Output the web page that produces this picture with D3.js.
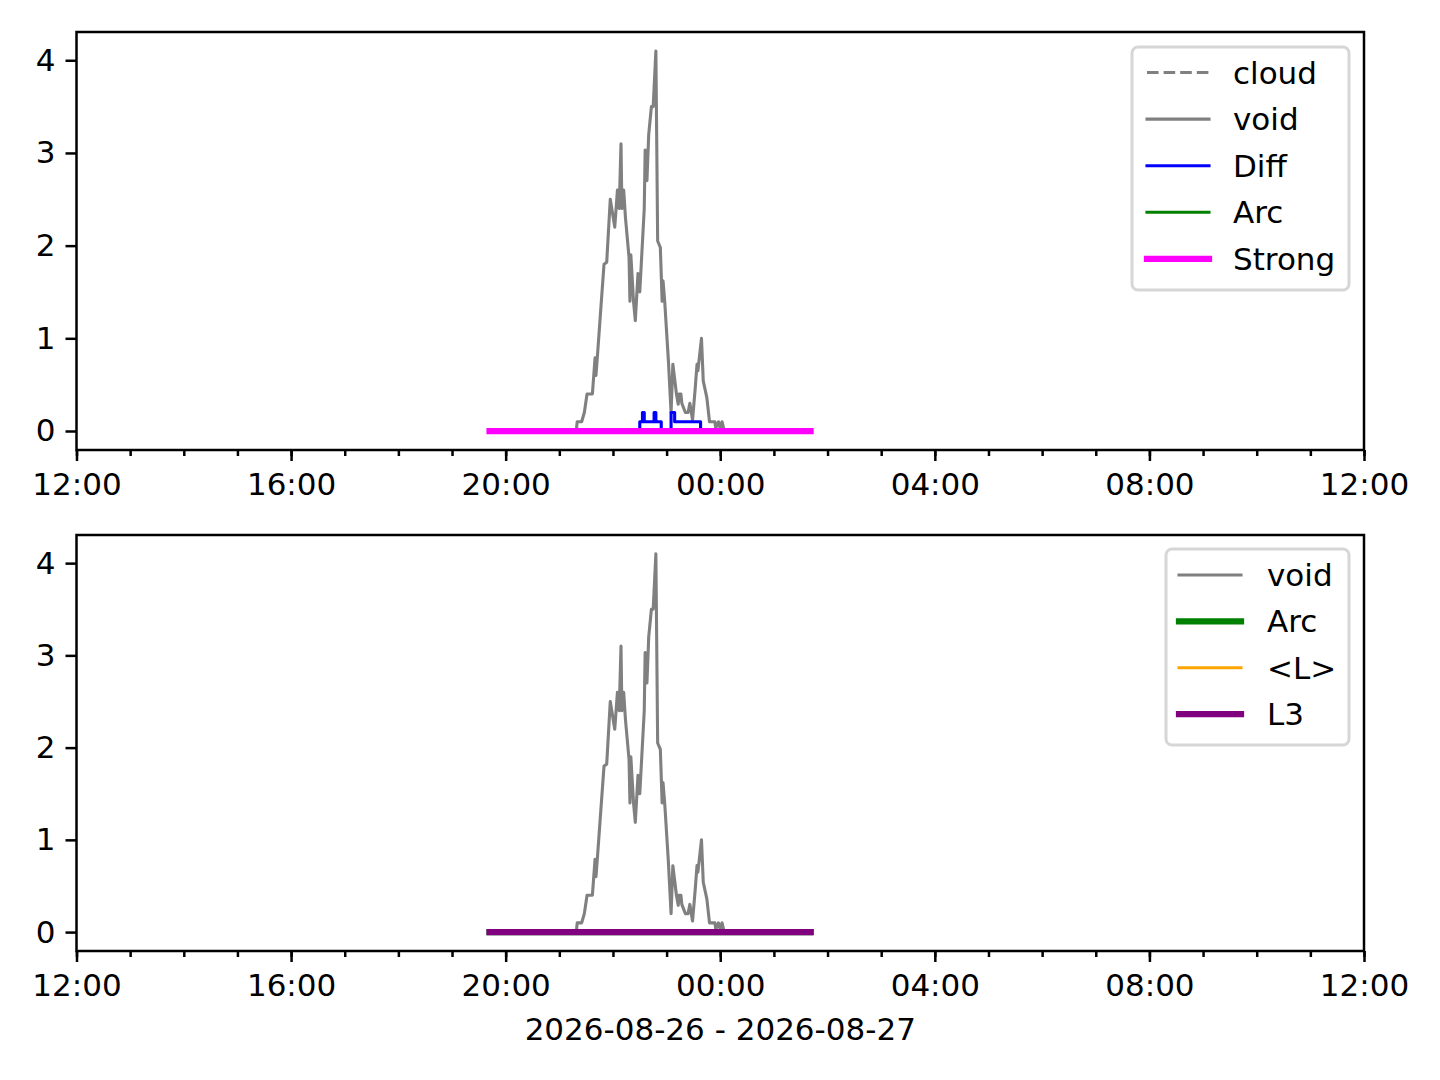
<!DOCTYPE html>
<html>
<head>
<meta charset="utf-8">
<script src="https://cdn.jsdelivr.net/npm/d3@7"></script>
<style>
  body { margin: 0; background: #fff; }
  text { font-family: "DejaVu Sans", sans-serif; fill: #000; }
</style>
</head>
<body>
<svg id="chart" width="1440" height="1080"></svg>
<script>
// data
var xRange = ["2026-08-26 12:00", "2026-08-27 12:00"];
var yTicks = [0, 1, 2, 3, 4];
var xLabel = "2026-08-26 - 2026-08-27";

var voidSeries = [
  ["2026-08-26 21:19", 0], ["2026-08-26 21:20", 0.1], ["2026-08-26 21:25", 0.1],
  ["2026-08-26 21:28", 0.2], ["2026-08-26 21:31", 0.4], ["2026-08-26 21:37", 0.4],
  ["2026-08-26 21:40", 0.79], ["2026-08-26 21:41", 0.6], ["2026-08-26 21:43", 0.86],
  ["2026-08-26 21:50", 1.8], ["2026-08-26 21:53", 1.82], ["2026-08-26 21:57", 2.5],
  ["2026-08-26 22:02", 2.2], ["2026-08-26 22:05", 2.6], ["2026-08-26 22:07", 2.4],
  ["2026-08-26 22:09", 3.1], ["2026-08-26 22:10", 2.4], ["2026-08-26 22:12", 2.6],
  ["2026-08-26 22:14", 2.3], ["2026-08-26 22:18", 1.87], ["2026-08-26 22:19", 1.4],
  ["2026-08-26 22:20", 1.9], ["2026-08-26 22:23", 1.4], ["2026-08-26 22:25", 1.19],
  ["2026-08-26 22:28", 1.7], ["2026-08-26 22:30", 1.5], ["2026-08-26 22:35", 2.4],
  ["2026-08-26 22:36", 3.03], ["2026-08-26 22:38", 2.7], ["2026-08-26 22:40", 3.2],
  ["2026-08-26 22:43", 3.5], ["2026-08-26 22:45", 3.5], ["2026-08-26 22:48", 4.1],
  ["2026-08-26 22:50", 2.05], ["2026-08-26 22:53", 1.98], ["2026-08-26 22:55", 1.4],
  ["2026-08-26 22:56", 1.62], ["2026-08-26 22:58", 1.38], ["2026-08-26 23:02", 0.76],
  ["2026-08-26 23:05", 0.2], ["2026-08-26 23:07", 0.72], ["2026-08-26 23:11", 0.4],
  ["2026-08-26 23:13", 0.29], ["2026-08-26 23:14", 0.4], ["2026-08-26 23:16", 0.4],
  ["2026-08-26 23:17", 0.3], ["2026-08-26 23:21", 0.2], ["2026-08-26 23:24", 0.2],
  ["2026-08-26 23:26", 0.3], ["2026-08-26 23:29", 0.12], ["2026-08-26 23:32", 0.46],
  ["2026-08-26 23:34", 0.72], ["2026-08-26 23:35", 0.65], ["2026-08-26 23:39", 1.0],
  ["2026-08-26 23:41", 0.54], ["2026-08-26 23:45", 0.36], ["2026-08-26 23:48", 0.1],
  ["2026-08-26 23:54", 0.1], ["2026-08-26 23:55", 0.03], ["2026-08-26 23:58", 0.1],
  ["2026-08-27 00:00", 0.03], ["2026-08-27 00:02", 0.1], ["2026-08-27 00:04", 0.02]
];

// step-after series
var diffSeries = [
  ["2026-08-26 19:42", 0], ["2026-08-26 22:30", 0.1], ["2026-08-26 22:33", 0.2],
  ["2026-08-26 22:35", 0.1], ["2026-08-26 22:46", 0.2], ["2026-08-26 22:48", 0.1],
  ["2026-08-26 22:54", 0], ["2026-08-26 23:05", 0.2], ["2026-08-26 23:09", 0.1],
  ["2026-08-26 23:38", 0], ["2026-08-27 01:41", 0]
];

var cloudSeries = [["2026-08-26 19:42", 0], ["2026-08-27 01:41", 0]];
var arcSeries = [["2026-08-26 19:42", 0], ["2026-08-27 01:41", 0]];
var strongSeries = [["2026-08-26 19:42", 0], ["2026-08-27 01:41", 0]];
var meanLSeries = [["2026-08-26 19:42", 0], ["2026-08-27 01:41", 0]];
var l3Series = [["2026-08-26 19:42", 0], ["2026-08-27 01:41", 0]];

var parse = d3.timeParse("%Y-%m-%d %H:%M");

function prep(s) {
  return s.map(function (d) { return { t: parse(d[0]), v: d[1] }; });
}

var topLines = [
  { name: "cloud", data: prep(cloudSeries), color: "#808080", width: 3.1, dash: "11.6,5" },
  { name: "void", data: prep(voidSeries), color: "#808080", width: 3.1 },
  { name: "Diff", data: prep(diffSeries), color: "#0000ff", width: 3.1, step: true },
  { name: "Arc", data: prep(arcSeries), color: "#008000", width: 3.1 },
  { name: "Strong", data: prep(strongSeries), color: "#ff00ff", width: 6.25 }
];

var bottomLines = [
  { name: "void", data: prep(voidSeries), color: "#808080", width: 3.1 },
  { name: "Arc", data: prep(arcSeries), color: "#008000", width: 6.25 },
  { name: "<L>", data: prep(meanLSeries), color: "#ffa500", width: 3.1 },
  { name: "L3", data: prep(l3Series), color: "#800080", width: 6.25 }
];

var svg = d3.select("#chart");
var fs = 31;

var allVals = [].concat(voidSeries, diffSeries, strongSeries).map(function (d) { return d[1]; });
var ext = d3.extent(allVals);
var pad = (ext[1] - ext[0]) * 0.05;

var x0 = 76.5, x1 = 1364;

function drawPanel(top, bottom, lines, legend, id) {
  var x = d3.scaleTime().domain(xRange.map(parse)).range([x0, x1]);
  var y = d3.scaleLinear().domain([ext[0] - pad, ext[1] + pad]).range([bottom, top]);

  var g = svg.append("g");

  g.append("clipPath").attr("id", "clip" + id)
    .append("rect")
    .attr("x", x0).attr("y", top)
    .attr("width", x1 - x0).attr("height", bottom - top);

  var plot = g.append("g").attr("clip-path", "url(#clip" + id + ")");

  lines.forEach(function (s) {
    var line = d3.line()
      .x(function (d) { return x(d.t); })
      .y(function (d) { return y(d.v); })
      .curve(s.step ? d3.curveStepAfter : d3.curveLinear);
    plot.append("path")
      .datum(s.data)
      .attr("d", line)
      .attr("fill", "none")
      .attr("stroke", s.color)
      .attr("stroke-width", s.width)
      .attr("stroke-linejoin", "round")
      .attr("stroke-linecap", s.dash ? "butt" : "square")
      .attr("stroke-dasharray", s.dash || null);
  });

  // axes
  var xAxis = d3.axisBottom(x)
    .ticks(d3.timeHour.every(4))
    .tickFormat(d3.timeFormat("%H:%M"))
    .tickSize(11).tickPadding(12);
  var xMinor = d3.axisBottom(x)
    .ticks(d3.timeHour.every(1))
    .tickFormat("")
    .tickSize(6);
  var yAxis = d3.axisLeft(y)
    .tickValues(yTicks)
    .tickFormat(d3.format("d"))
    .tickSize(11).tickPadding(10);

  var gxm = g.append("g").attr("transform", "translate(0," + bottom + ")").call(xMinor);
  var gx = g.append("g").attr("transform", "translate(0," + bottom + ")").call(xAxis);
  var gy = g.append("g").attr("transform", "translate(" + x0 + ",0)").call(yAxis);

  [gxm, gx, gy].forEach(function (a) {
    a.selectAll(".domain").remove();
    a.selectAll(".tick line").attr("stroke", "#000").attr("stroke-width", 2.5);
    a.selectAll(".tick text")
      .attr("font-size", fs)
      .attr("font-family", "DejaVu Sans")
      .attr("fill", "#000");
  });

  g.append("rect")
    .attr("x", x0).attr("y", top)
    .attr("width", x1 - x0).attr("height", bottom - top)
    .attr("fill", "none")
    .attr("stroke", "#000")
    .attr("stroke-width", 2.5);

  // legend
  var lg = g.append("g");
  lg.append("rect")
    .attr("x", legend.x).attr("y", legend.y)
    .attr("width", legend.w).attr("height", legend.h)
    .attr("rx", 6).attr("ry", 6)
    .attr("fill", "#fff").attr("fill-opacity", 0.8)
    .attr("stroke", "#d6d6d6").attr("stroke-width", 3);

  lines.forEach(function (s, i) {
    var cy = legend.firstRow + i * legend.step;
    lg.append("line")
      .attr("x1", legend.hx).attr("x2", legend.hx + 62)
      .attr("y1", cy).attr("y2", cy)
      .attr("stroke", s.color)
      .attr("stroke-width", s.width)
      .attr("stroke-linecap", s.dash ? "butt" : "square")
      .attr("stroke-dasharray", s.dash || null);
    lg.append("text")
      .attr("x", legend.tx).attr("y", cy + 11)
      .attr("font-size", fs)
      .text(s.name);
  });

  return x;
}

drawPanel(32, 450, topLines,
  { x: 1132, y: 47, w: 217, h: 243, firstRow: 72.5, step: 46.6, hx: 1147, tx: 1233 }, 1);
drawPanel(535, 951, bottomLines,
  { x: 1166, y: 549, w: 183, h: 196, firstRow: 575, step: 46.4, hx: 1179, tx: 1267 }, 2);

svg.append("text")
  .attr("x", (x0 + x1) / 2).attr("y", 1040)
  .attr("text-anchor", "middle")
  .attr("font-size", fs)
  .text(xLabel);
</script>
</body>
</html>
